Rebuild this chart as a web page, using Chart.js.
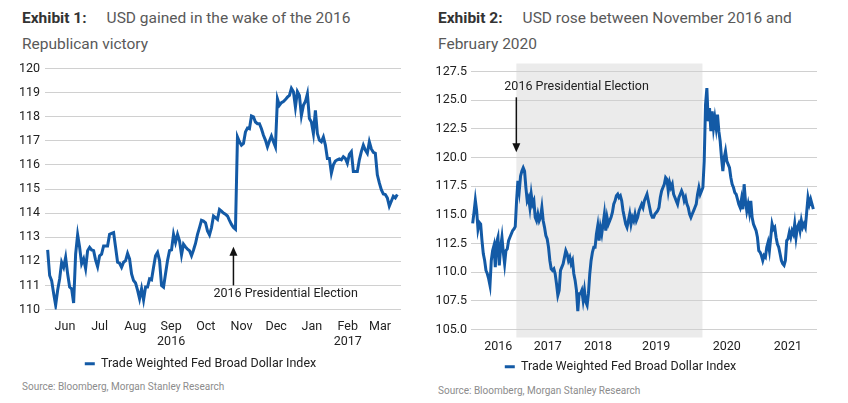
<!DOCTYPE html>
<html>
<head>
<meta charset="utf-8">
<script src="https://cdn.jsdelivr.net/npm/chart.js@4.4.1/dist/chart.umd.min.js"></script>
<style>
  body { margin: 0; background: #fff; font-family: Roboto, sans-serif; }
  #page { position: relative; width: 848px; height: 403px; overflow: hidden; }
  .title { position: absolute; top: 5px; font-size: 15.5px; line-height: 26px; color: #595959; white-space: nowrap; }
  .title b { color: #333; font-weight: 700; margin-right: 20px; }
  canvas { position: absolute; }
  .source { position: absolute; font-size: 10px; line-height: 12px; color: #8c8c8c; white-space: nowrap; }
</style>
</head>
<body>
<div id="page">
  <div class="title" style="left:22px"><b>Exhibit 1:</b>USD gained in the wake of the 2016<br>Republican victory</div>
  <div class="title" style="left:438px"><b>Exhibit 2:</b>USD rose between November 2016 and<br>February 2020</div>
  <canvas id="leftChart" width="424" height="324" style="left:0;top:56px"></canvas>
  <canvas id="rightChart" width="424" height="323" style="left:424px;top:60px"></canvas>
  <div class="source" style="left:22px;top:381px">Source: Bloomberg, Morgan Stanley Research</div>
  <div class="source" style="left:438px;top:385px">Source: Bloomberg, Morgan Stanley Research</div>
</div>
<script>
// Exhibit 1: Jun 2016 - Mar 2017, x in days since 1 Jun 2016
const seriesName = 'Trade Weighted Fed Broad Dollar Index';
const leftValues = [
  112.47, 111.41, 111.2, 110.66, 110.18, 110.8, 111.27, 111.96, 111.75, 112.16,
  111.48, 110.93, 110.86, 110.27, 112.3, 113.1, 112.58, 111.9, 112.1, 111.7,
  112.44, 112.58, 112.47, 112.44, 112.05, 111.78, 112.23, 112.3, 112.64, 112.64,
  112.64, 113.12, 113.16, 113.19, 112.58, 111.96, 111.92, 111.75, 111.96, 112.03,
  112.33, 112.1, 111.48, 111.2, 111.1, 110.8, 110.45, 110.86, 110.4, 110.93,
  110.93, 111.27, 111.23, 111.75, 112.23, 112.37, 112.03, 111.0,
  110.93, 111.48, 112.03, 112.44, 112.47, 113.12, 112.78, 113.12, 112.85, 112.27,
  112.71, 112.6, 112.5, 112.44, 112.23, 112.47, 112.74, 113.12, 113.4, 113.7,
  113.67, 113.6, 113.26, 113.1, 113.4, 113.88, 113.81, 113.74, 114.15, 114.08,
  114.0, 113.95, 113.88, 113.7, 113.53, 113.4, 113.33, 117.16, 116.96, 116.82,
  116.89, 117.37, 117.53, 117.5, 118.03, 117.99, 117.78, 117.71, 117.71, 117.5,
  117.23, 117.03, 116.75, 116.99, 117.2, 116.96, 116.75, 118.74, 118.47, 118.58,
  118.63,
  118.71, 118.81, 118.88, 119.18, 119.04, 118.4, 119.04, 118.88, 118.05, 118.47,
  118.63, 118.95, 117.92, 117.78, 117.3, 118.26, 117.3, 117.03, 116.96, 117.16,
  116.82, 116.27, 116.27, 115.66, 116.0, 116.16, 116.21, 116.25, 116.21, 116.34,
  116.27, 116.07, 116.44, 116.55, 115.73, 115.73, 115.73, 116.21, 116.55, 116.82,
  116.62, 116.48, 116.96, 116.66, 116.52, 116.48, 115.59, 115.25, 114.97, 114.79,
  114.77, 114.63, 114.29, 114.49, 114.7, 114.63, 114.77
];
const leftFirstDay = -1;     // 31 May 2016
const leftLastDay = 302;     // 30 Mar 2017
const leftTickDays = [14, 44, 75, 106, 136, 167, 197, 228, 259, 287];
const leftTickLabels = ['Jun', 'Jul', 'Aug', ['Sep', '2016'], 'Oct', 'Nov', 'Dec', 'Jan', ['Feb', '2017'], 'Mar'];
const leftElectionDay = 160; // 8 Nov 2016

// Exhibit 2: 2016 - 2021, x in months since 1 Jan 2016
const rightValues = [
  114.26, 115.21, 116.28, 115.35, 113.76, 114.34, 114.2, 112.75, 111.6, 111.02,
  110.15, 109.86, 109.43, 108.85, 111.02, 111.88, 112.32, 110.44, 112.61, 113.04,
  110.59, 112.17, 113.04, 111.74, 110.73, 111.88, 112.03, 112.75, 113.04, 113.33,
  113.62, 113.76, 113.97, 116.22, 117.96, 117.09, 118.39, 118.82, 119.11, 118.82,
  117.38, 116.22, 116.51, 115.64, 116.8, 115.93, 116.22, 114.78, 114.49, 115.07,
  114.49, 114.78, 115.64, 114.49, 113.91, 113.19, 112.9, 112.17, 111.02, 110.29,
  110.15, 110.29, 109.86, 108.99, 107.98, 108.41, 110.15, 110.44, 110.73, 111.31,
  111.88, 111.6, 111.02, 111.31, 110.73, 111.02, 109.86, 109.28, 108.41, 106.6,
  108.12,
  108.12, 108.41, 107.55, 108.41, 107.4, 107.11, 108.12, 109.86, 111.02, 111.74,
  112.17, 112.17, 113.33, 114.05, 112.75, 113.91, 113.33, 114.2, 115.07, 113.62,
  114.78, 114.2, 114.49, 114.78, 115.21, 115.93, 116.22, 116.66, 116.8, 116.51,
  116.66, 116.22, 115.35, 114.78, 114.2, 113.91, 114.49, 115.07, 114.2, 114.78,
  114.49, 115.07, 114.49, 114.78, 115.35, 115.64, 115.93, 115.64, 116.22, 116.51,
  116.8, 116.22, 115.64, 115.07, 114.78, 114.78, 115.07, 115.21, 115.35, 115.64,
  116.51, 117.09, 117.38, 117.67, 118.25, 118.1, 117.09, 117.82, 117.38, 117.67,
  116.8, 116.51, 116.22, 115.93, 116.51, 116.8, 117.09, 116.8, 116.22, 116.51,
  115.93, 115.64, 115.07, 114.78, 115.07, 115.35, 115.64, 115.93, 116.8, 117.38,
  116.8, 117.09, 117.38, 119.69, 124.61, 126.05, 123.16, 124.32, 122.3, 124.03,
  122.58, 123.45, 122.58, 123.74, 122.3, 121.43, 119.98, 118.82, 119.98, 120.56,
  119.69, 119.4, 119.11, 118.25, 117.67, 117.38, 116.94, 116.8, 116.36, 115.93,
  115.64, 116.36, 115.49, 117.67, 116.22, 115.35, 115.93, 115.21, 116.22, 114.78,
  114.2, 113.91, 113.62, 113.04, 111.88, 111.74, 111.45, 111.02, 111.45, 111.31,
  112.17, 112.61, 111.88, 113.04, 114.2, 113.76, 113.91, 113.04, 112.46, 112.17,
  111.6, 111.02, 110.73, 110.59, 111.02, 112.75, 112.9, 113.47, 113.04, 113.62,
  113.33, 114.2, 113.04, 113.91, 114.2, 113.62, 114.49, 113.91, 114.2, 113.91,
  115.21, 116.51, 115.93, 116.36, 115.93, 115.49
];
const rightFirstMonth = 0.85;
const rightLastMonth = 72.23;
const rightTickMonths = [6.2, 16.6, 27.1, 39.3, 54.1, 66.9];
const rightTickLabels = ['2016', '2017', '2018', '2019', '2020', '2021'];
const shadeFromMonth = 10;   // Nov 2016
const shadeToMonth = 49;     // Feb 2020

const lineBlue = '#135aa6';
const tickFont = { family: 'Roboto', size: 12.5 };
const gridColor = '#d0d0d0';

Chart.defaults.font.family = 'Roboto';
Chart.defaults.animation = false;

function toPoints(values, first, last) {
  const step = (last - first) / (values.length - 1);
  return values.map((v, i) => ({ x: first + i * step, y: v }));
}

function drawArrow(ctx, x, yFrom, yTo) {
  const dir = yTo < yFrom ? 1 : -1;
  ctx.save();
  ctx.strokeStyle = '#111';
  ctx.fillStyle = '#111';
  ctx.lineWidth = 1.5;
  ctx.beginPath();
  ctx.moveTo(x, yFrom);
  ctx.lineTo(x, yTo + dir * 6);
  ctx.stroke();
  ctx.beginPath();
  ctx.moveTo(x, yTo);
  ctx.lineTo(x - 4, yTo + dir * 9);
  ctx.lineTo(x + 4, yTo + dir * 9);
  ctx.closePath();
  ctx.fill();
  ctx.restore();
}

function drawNote(ctx, text, x, y) {
  ctx.save();
  ctx.font = '12.5px Roboto';
  ctx.fillStyle = '#222';
  ctx.textAlign = 'left';
  ctx.textBaseline = 'middle';
  ctx.fillText(text, x, y);
  ctx.restore();
}

const leftNote = {
  id: 'leftNote',
  afterDatasetsDraw(chart) {
    const { ctx, scales: { x, y } } = chart;
    const px = x.getPixelForValue(leftElectionDay);
    drawArrow(ctx, px, y.getPixelForValue(111.0), y.getPixelForValue(112.6));
    drawNote(ctx, '2016 Presidential Election', px - 20, y.getPixelForValue(110.65));
  }
};

const shade = {
  id: 'shade',
  beforeDraw(chart) {
    const { ctx, chartArea, scales: { x } } = chart;
    const x0 = x.getPixelForValue(shadeFromMonth);
    const x1 = x.getPixelForValue(shadeToMonth);
    ctx.save();
    ctx.fillStyle = '#ebebeb';
    ctx.fillRect(x0, chartArea.top - 8, x1 - x0, chartArea.bottom - chartArea.top + 16);
    ctx.restore();
  }
};

const rightNote = {
  id: 'rightNote',
  afterDraw(chart) {
    const { ctx, scales: { x, y } } = chart;
    const px = x.getPixelForValue(shadeFromMonth);
    drawArrow(ctx, px, y.getPixelForValue(125.25), y.getPixelForValue(120.45));
    drawNote(ctx, '2016 Presidential Election', px - 12, y.getPixelForValue(126.2));
  }
};

function makeOptions(cfg) {
  return {
    responsive: false,
    layout: { padding: { top: 10, left: 0, right: cfg.padRight, bottom: 0 } },
    plugins: {
      tooltip: { enabled: false },
      legend: {
        position: 'bottom',
        labels: {
          usePointStyle: true,
          pointStyle: 'line',
          pointStyleWidth: 10,
          padding: cfg.legendPad,
          color: '#222',
          font: tickFont
        }
      }
    },
    scales: {
      x: {
        type: 'linear',
        min: cfg.xMin,
        max: cfg.xMax,
        afterFit: s => { s.height = cfg.xHeight; },
        grid: { display: false, drawTicks: false },
        border: { display: false },
        afterBuildTicks: s => { s.ticks = cfg.tickPos.map(v => ({ value: v })); },
        ticks: {
          autoSkip: false,
          maxRotation: 0,
          padding: 10,
          color: '#222',
          font: tickFont,
          callback: (v, i) => cfg.tickLabels[i]
        }
      },
      y: {
        min: cfg.yMin,
        max: cfg.yMax,
        afterFit: s => { s.width = cfg.yWidth; },
        grid: { color: gridColor, lineWidth: 1, drawTicks: false },
        border: { display: false },
        ticks: {
          stepSize: cfg.yStep,
          padding: cfg.yPad,
          color: '#222',
          font: tickFont,
          callback: cfg.yFormat
        }
      }
    }
  };
}

new Chart(document.getElementById('leftChart'), {
  type: 'line',
  data: {
    datasets: [{
      label: seriesName,
      data: toPoints(leftValues, leftFirstDay, leftLastDay),
      borderColor: lineBlue,
      backgroundColor: lineBlue,
      borderWidth: 3,
      pointRadius: 0,
      tension: 0
    }]
  },
  options: makeOptions({
    padRight: 23, legendPad: 12, xHeight: 36, xMin: -3.3, xMax: 305.2,
    tickPos: leftTickDays, tickLabels: leftTickLabels,
    yMin: 110, yMax: 120, yStep: 1, yWidth: 45, yPad: 5,
    yFormat: v => v
  }),
  plugins: [leftNote]
});

new Chart(document.getElementById('rightChart'), {
  type: 'line',
  data: {
    datasets: [{
      label: seriesName,
      data: toPoints(rightValues, rightFirstMonth, rightLastMonth),
      borderColor: lineBlue,
      backgroundColor: lineBlue,
      borderWidth: 3,
      pointRadius: 0,
      tension: 0
    }]
  },
  options: makeOptions({
    padRight: 31, legendPad: 6, xHeight: 25, xMin: 0.5, xMax: 73,
    tickPos: rightTickMonths, tickLabels: rightTickLabels,
    yMin: 105, yMax: 127.5, yStep: 2.5, yWidth: 47, yPad: 4,
    yFormat: v => v.toFixed(1)
  }),
  plugins: [shade, rightNote]
});
</script>
</body>
</html>
